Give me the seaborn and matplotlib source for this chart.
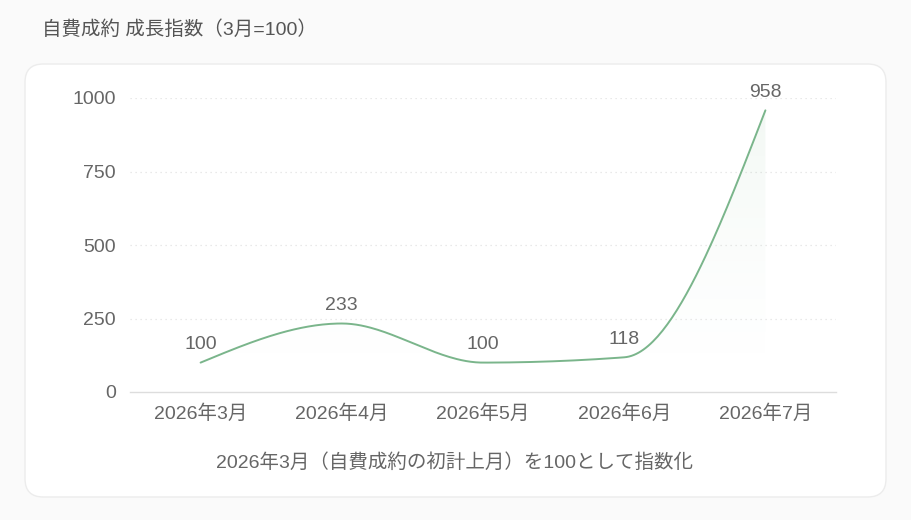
import numpy as np
import pandas as pd
import matplotlib
matplotlib.use("Agg")
import matplotlib.pyplot as plt
import seaborn as sns
from matplotlib.patches import FancyBboxPatch, Polygon

# data
months = ["2026年3月", "2026年4月", "2026年5月", "2026年6月", "2026年7月"]
index_values = [100, 233, 100, 118, 958]
y_ticks = [0, 250, 500, 750, 1000]

title_text = "自費成約 成長指数（3月=100）"
xlabel_text = "2026年3月（自費成約の初計上月）を100として指数化"

LINE = "#7ab58b"
TXT = "#666666"
FS = 14

sns.set_theme(style="white")
plt.rcParams['font.family'] = ['Liberation Sans', 'Noto Sans CJK JP', 'DejaVu Sans']


def monotone_x(xs, ys, n=60):
    # d3 curveMonotoneX style smoothing between the data points
    xs = np.asarray(xs, float)
    ys = np.asarray(ys, float)
    h = np.diff(xs)
    s = np.diff(ys) / h
    t = np.zeros(len(xs))
    for i in range(1, len(xs) - 1):
        p = (s[i - 1] * h[i] + s[i] * h[i - 1]) / (h[i - 1] + h[i])
        t[i] = (np.sign(s[i - 1]) + np.sign(s[i])) * min(abs(s[i - 1]), abs(s[i]), 0.5 * abs(p))
    t[0] = (3 * s[0] - t[1]) / 2
    t[-1] = (3 * s[-1] - t[-2]) / 2
    px, py = [], []
    for i in range(len(xs) - 1):
        u = np.linspace(0, 1, n)
        x0, x1 = xs[i], xs[i + 1]
        dx = (x1 - x0) / 3
        cx = [x0, x0 + dx, x1 - dx, x1]
        cy = [ys[i], ys[i] + dx * t[i], ys[i + 1] - dx * t[i + 1], ys[i + 1]]
        b = [(1 - u) ** 3, 3 * u * (1 - u) ** 2, 3 * u ** 2 * (1 - u), u ** 3]
        px.append(sum(bb * c for bb, c in zip(b, cx)))
        py.append(sum(bb * c for bb, c in zip(b, cy)))
    return np.concatenate(px), np.concatenate(py)


df = pd.DataFrame({"month": months, "value": index_values})
df["pos"] = np.arange(len(df))

fig = plt.figure(figsize=(9.12, 5.2), dpi=100)
fig.patch.set_facecolor("#fafafa")

# card behind the axes
card = FancyBboxPatch((25 / 912, 1 - 497 / 520), 861 / 912, 433 / 520,
                      boxstyle="round,pad=0,rounding_size=0.02",
                      transform=fig.transFigure, facecolor="white",
                      edgecolor="#ececec", linewidth=1.0, mutation_aspect=912 / 520,
                      zorder=-5)
fig.patches.append(card)

fig.text(42 / 912, 1 - 30 / 520, title_text, fontsize=FS, color="#555555",
         va="center", ha="left")

ax = fig.add_axes([130 / 912, 1 - 392 / 520, 706 / 912, 294 / 520])
ax.set_facecolor("none")

sx, sy = monotone_x(df["pos"], df["value"])

# faint gradient fill under the curve
grad = np.linspace(0, 1, 256).reshape(-1, 1)
alpha = grad ** 1.6 * 0.10
rgba = np.zeros((256, 1, 4))
rgba[..., :3] = matplotlib.colors.to_rgb(LINE)
rgba[..., 3] = alpha
im = ax.imshow(rgba, extent=[-0.5, 4.5, 0, 1000], origin="lower", aspect="auto", zorder=1)
poly = Polygon(np.column_stack([np.r_[sx, sx[-1], sx[0]], np.r_[sy, 0, 0]]),
               closed=True, transform=ax.transData, facecolor="none", edgecolor="none")
ax.add_patch(poly)
im.set_clip_path(poly)

sns.lineplot(x=sx, y=sy, ax=ax, color=LINE, linewidth=1.4, zorder=3, sort=False)

for p, v in zip(df["pos"], df["value"]):
    ax.annotate(str(v), (p, v), xytext=(0, 7), textcoords="offset points",
                ha="center", va="bottom", fontsize=FS, color=TXT)

ax.set_xlim(-0.5, 4.5)
ax.set_ylim(0, 1000)
ax.set_yticks(y_ticks)
ax.set_yticklabels([str(v) for v in y_ticks], fontsize=FS, color=TXT)
ax.set_xticks(df["pos"])
ax.set_xticklabels(months, fontsize=FS, color=TXT)
ax.set_xticks(np.arange(-0.5, 5, 1), minor=True)
ax.tick_params(axis="x", which="major", length=0, pad=9)
ax.tick_params(axis="x", which="minor", length=7, color="#d6d6d6", width=1)
ax.tick_params(axis="y", length=0, pad=10)

for v in y_ticks[1:]:
    ax.axhline(v, color="#e2e2e2", linewidth=0.9, linestyle=(0, (1, 3)), zorder=0)

for side in ["top", "right", "left"]:
    ax.spines[side].set_visible(False)
ax.spines["bottom"].set_color("#dddddd")
ax.spines["bottom"].set_linewidth(1)
ax.set_xlabel("")
ax.set_ylabel("")

fig.text(455 / 912, 1 - 463 / 520, xlabel_text, fontsize=FS, color=TXT,
         ha="center", va="center")

fig.savefig("out.png", dpi=100, facecolor=fig.get_facecolor())
